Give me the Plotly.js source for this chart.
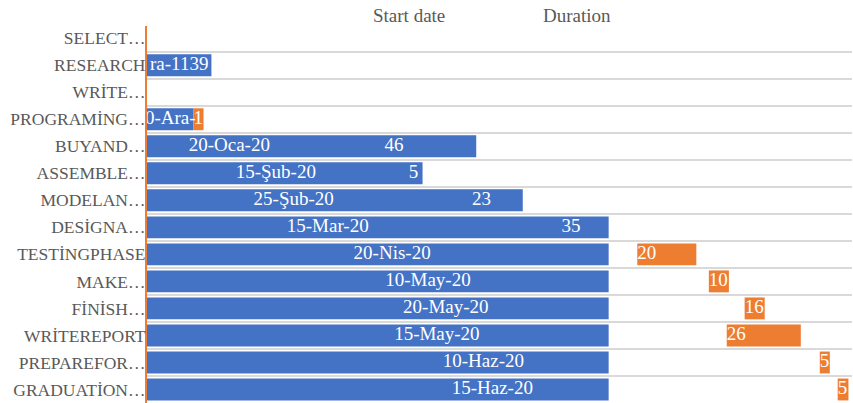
<!DOCTYPE html>
<html><head><meta charset="utf-8">
<script src="https://cdn.plot.ly/plotly-3.0.1.min.js"></script>
<style>html,body{margin:0;padding:0;background:#fff}#chart{width:853px;height:403px}</style>
</head><body><div id="chart"></div>
<script>
// ---- data ----
const tasks = ["SELECT…","RESEARCH","WRİTE…","PROGRAMİNG…","BUYAND…","ASSEMBLE…","MODELAN…","DESİGNA…","TESTİNGPHASE","MAKE…","FİNİSH…","WRİTEREPORT","PREPAREFOR…","GRADUATİON…"];
const startDates = [null,"2019-12-23",null,"2019-12-18","2020-01-20","2020-02-15","2020-02-25","2020-03-15","2020-04-20","2020-05-10","2020-05-20","2020-05-15","2020-06-10","2020-06-15"];
const startLabels = ["","ra-1139","","0-Ara-","20-Oca-20","15-Şub-20","25-Şub-20","15-Mar-20","20-Nis-20","10-May-20","20-May-20","15-May-20","10-Haz-20","15-Haz-20"];
const durations = [null,null,null,1,46,5,23,35,20,10,16,26,5,5];
// visible length (days) of the orange duration bars as drawn
const orangeBarDays = [null,null,null,2.8,null,null,null,null,16.5,5.6,5.6,20.7,2.8,3];
const axisStart = "2019-12-05";    // axis minimum
const startAxisMax = "2020-04-12"; // blue bars are cut here
const axisSpanDays = 197;
const legendNames = ["Start date","Duration"];

// ---- build ----
const DAY = 86400000;
const dayOf = s => (Date.parse(s) - Date.parse(axisStart)) / DAY;
const clip = dayOf(startAxisMax);
const BLUE = "#4472C4", ORANGE = "#ED7D31";
const FONT = "Liberation Serif, Times New Roman, serif";

// blue: start segment, plus the duration segment where it is drawn blue (merged, cut at clip)
const bY=[],bX=[],sLX=[],sLT=[];
const dLX=[],dLY=[],dLT=[];
const oY=[],oB=[],oX=[],oLX=[],oLY=[],oLT=[];
tasks.forEach((t,i)=>{
  if(!startDates[i]) return;
  const d = dayOf(startDates[i]);
  sLX.push(d/2); sLT.push(startLabels[i]);
  let end = d;
  if(durations[i]!=null){
    if(orangeBarDays[i]==null){
      end = d + durations[i];
      dLX.push(d+durations[i]/2); dLY.push(t); dLT.push(String(durations[i]));
    } else {
      oY.push(t); oB.push(d); oX.push(orangeBarDays[i]);
      oLX.push(d); oLY.push(t); oLT.push(String(durations[i]));
    }
  }
  bY.push(t); bX.push(Math.min(end, clip));
});

const textCommon = {type:"scatter", mode:"text", hoverinfo:"skip", showlegend:false, cliponaxis:true,
  textfont:{family:FONT, size:19, color:"#FFFFFF"}};

const data = [
  {type:"bar", orientation:"h", name:legendNames[0], y:bY, x:bX, base:bY.map(()=>0), hoverinfo:"skip", showlegend:false, marker:{color:BLUE, line:{width:0}}},
  {type:"bar", orientation:"h", name:legendNames[1], y:oY, x:oX, base:oB, hoverinfo:"skip", showlegend:false, marker:{color:ORANGE, line:{width:0}}},
  Object.assign({}, textCommon, {x:sLX, y:bY, text:sLT, textposition:"middle center"}),
  Object.assign({}, textCommon, {x:dLX, y:dLY, text:dLT, textposition:"middle center"}),
  Object.assign({}, textCommon, {x:oLX, y:oLY, text:oLT, textposition:"middle right"})
];

const layout = {
  width:853, height:403,
  margin:{l:147, r:1, t:26, b:0},
  paper_bgcolor:"#FFFFFF", plot_bgcolor:"#FFFFFF",
  barmode:"overlay", bargap:0.19,
  hovermode:false,
  showlegend:false,
  font:{family:FONT, color:"#595959"},
  xaxis:{range:[0, axisSpanDays], showgrid:false, zeroline:false, showticklabels:false, ticks:"", showline:false, fixedrange:true},
  yaxis:{type:"category", categoryorder:"array", categoryarray:tasks, range:[tasks.length-0.5, -0.45],
    tickson:"boundaries", showgrid:true, gridcolor:"#D9D9D9", gridwidth:2, ticks:"", ticklen:0,
    showline:true, linecolor:ORANGE, linewidth:2, zeroline:false,
    tickfont:{family:FONT, size:17.5, color:"#595959"}, ticklabelstandoff:-4, fixedrange:true},
  annotations:[
    {text:legendNames[0], xref:"paper", yref:"paper", x:0.372, y:1.027, xanchor:"center", yanchor:"middle", showarrow:false, font:{family:FONT, size:19, color:"#595959"}},
    {text:legendNames[1], xref:"paper", yref:"paper", x:0.61, y:1.027, xanchor:"center", yanchor:"middle", showarrow:false, font:{family:FONT, size:19, color:"#595959"}}
  ]
};
Plotly.newPlot("chart", data, layout, {displayModeBar:false, staticPlot:true});
</script>
</body></html>
